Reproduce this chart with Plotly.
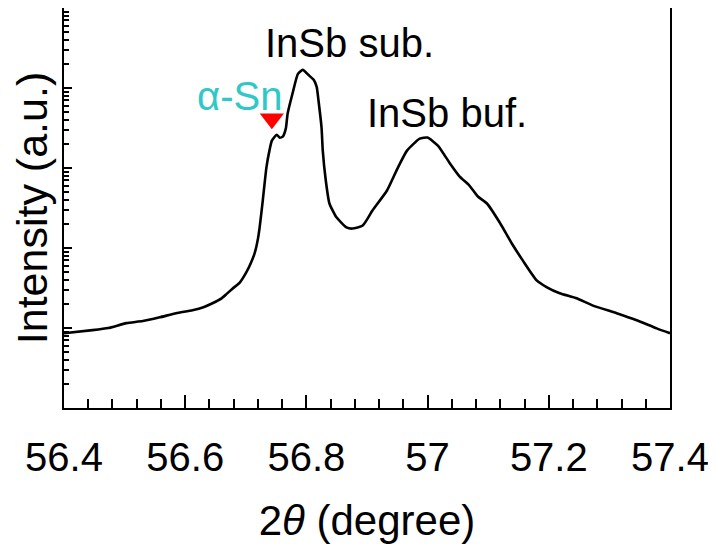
import plotly.graph_objects as go

# 2theta (degree) and intensity (a.u.)
two_theta = [56.400, 56.447, 56.473, 56.503, 56.530, 56.558, 56.585, 56.612, 56.630, 56.645,
             56.660, 56.668, 56.678, 56.690, 56.701, 56.708, 56.715, 56.720, 56.723, 56.728,
             56.734, 56.739, 56.743, 56.751, 56.756, 56.761, 56.766, 56.769, 56.777, 56.786,
             56.794, 56.805, 56.812, 56.817, 56.820, 56.825, 56.827, 56.832, 56.838, 56.850,
             56.866, 56.876, 56.893, 56.909, 56.933, 56.951, 56.966, 56.987, 57.000, 57.017,
             57.036, 57.053, 57.069, 57.083, 57.098, 57.119, 57.139, 57.157, 57.180, 57.197,
             57.218, 57.246, 57.272, 57.312, 57.345, 57.378, 57.400]
intensity = [8.6, 9.4, 10.0, 11.5, 12.2, 13.6, 15.3, 16.7, 18.2, 20.4,
             23.5, 26.5, 31.0, 37.0, 50.0, 64.0, 88.0, 130, 185, 392,
             1012, 1648, 2197, 2609, 2393, 2465, 3100, 4770, 8470, 15030,
             16870, 14190, 12650, 10350, 6930, 3190, 1648, 697, 360, 240,
             181, 175, 191, 294, 523, 1012, 1648, 2326, 2400, 1901,
             1167, 781, 604, 440, 360, 208, 114, 70, 39.4, 32.3,
             27.2, 23.5, 19.2, 15.3, 12.5, 9.9, 8.6]

marker_x = [56.743]
marker_y = [4130]

x_ticks = [56.4, 56.6, 56.8, 57.0, 57.2, 57.4]
x_tick_labels = ["56.4", "56.6", "56.8", "57", "57.2", "57.4"]

FONT = "Arial, Liberation Sans, sans-serif"

fig = go.Figure()
fig.add_trace(go.Scatter(x=two_theta, y=intensity, mode="lines",
                         line=dict(color="black", width=2.6, shape="spline", smoothing=0.5),
                         showlegend=False))
fig.add_trace(go.Scatter(x=marker_x, y=marker_y, mode="markers",
                         marker=dict(symbol="triangle-down", size=21, color="#ff0000",
                                     line=dict(width=0)), showlegend=False))

minor_y = [m * 10 ** d for d in range(0, 5) for m in range(2, 10)]

fig.update_layout(
    width=716, height=550,
    margin=dict(l=56, r=53.5, t=0, b=149.5),
    paper_bgcolor="white", plot_bgcolor="white",
    font=dict(family=FONT, size=40, color="black"),
    xaxis=dict(range=[56.4, 57.4], tickvals=x_ticks, ticktext=x_tick_labels,
               ticks="inside", ticklen=13, tickwidth=2, tickcolor="black",
               showline=True, linewidth=2, linecolor="black", mirror=True,
               showgrid=False, zeroline=False, automargin=False,
               minor=dict(dtick=0.04, tick0=56.4, ticks="inside", ticklen=9,
                          tickwidth=2, tickcolor="black", showgrid=False),
               tickfont=dict(size=40), ticklabelstandoff=13,
               title=dict(text="2<i>θ</i> (degree)", font=dict(size=42), standoff=28)),
    yaxis=dict(type="log", range=[0, 5], tickvals=[1, 10, 100, 1000, 10000, 100000],
               ticks="inside", ticklen=8, tickwidth=2, tickcolor="black",
               showticklabels=False, automargin=False,
               showline=True, linewidth=2, linecolor="black", mirror=True,
               showgrid=False, zeroline=False,
               minor=dict(tickvals=minor_y, ticks="inside", ticklen=5, tickwidth=1.5,
                          tickcolor="black", showgrid=False),
               title=dict(text="Intensity (a.u.)", font=dict(size=43), standoff=2)),
    annotations=[
        dict(x=56.871, y=0.913, xref="x", yref="paper", text="InSb sub.", showarrow=False,
             font=dict(size=40, color="black"), xanchor="center", yanchor="middle"),
        dict(x=57.032, y=0.738, xref="x", yref="paper", text="InSb buf.", showarrow=False,
             font=dict(size=40, color="black"), xanchor="center", yanchor="middle"),
        dict(x=56.690, y=0.780, xref="x", yref="paper", text="α-Sn", showarrow=False,
             font=dict(size=40, color="#2ec8c8"), xanchor="center", yanchor="middle"),
    ],
)

fig.write_html("out.html")
